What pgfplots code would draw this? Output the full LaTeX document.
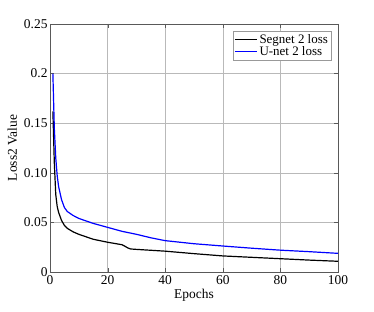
\documentclass[border=0pt]{standalone}
\usepackage{pgfplots}
\pgfplotsset{compat=1.18}
\usepackage{fontspec}
\setmainfont{Liberation Serif}
\pgfplotsset{legend image code/.code={\draw[#1] (0bp,0bp) -- (22bp,0bp);}}
\begin{document}
\begin{tikzpicture}
\begin{axis}[
  scale only axis, width=288bp, height=248bp,
  xmin=0, xmax=100, ymin=0, ymax=0.25,
  xtick={0,20,40,60,80,100},
  ytick={0,0.05,0.1,0.15,0.2,0.25},
  yticklabels={0,0.05,0.10,0.15,0.2,0.25},
  grid=major, grid style={gray!55, line width=0.5pt},
  axis line style={black!65, line width=0.6pt},
  tick style={black!65},
  tick align=inside,
  tick label style={font=\fontsize{13.5}{15}\selectfont},
  yticklabel style={xshift=1bp},
  label style={font=\fontsize{13.5}{15}\selectfont},
  /pgf/number format/assume math mode=true,
  xlabel={Epochs}, ylabel={Loss2 Value},
  xlabel style={yshift=2bp},
  legend cell align=left,
  legend style={at={(0.976,0.972)}, anchor=north east, draw=black!40,
    font=\fontsize{13}{14}\selectfont, inner sep=1pt, row sep=-2pt},
]
\addplot[color=black, line width=1.2bp] coordinates {
(1,0.162) (1.5,0.11) (2,0.078) (2.5,0.066) (3,0.06) (4,0.052) (5,0.047) (6,0.044) (8,0.0405) (10,0.038)
(15,0.033) (20,0.030) (24,0.028) (25,0.0275) (26,0.026) (27,0.0243) (28,0.0232) (30,0.0228)
(40,0.021) (50,0.0185) (60,0.0162) (70,0.0148) (80,0.0134) (90,0.012) (100,0.0108)};
\addlegendentry{Segnet 2 loss}
\addplot[color=blue, line width=1.2bp] coordinates {
(1,0.2) (1.5,0.145) (2,0.115) (2.5,0.097) (3,0.086) (4,0.073) (5,0.065) (6,0.061) (8,0.057) (10,0.054)
(15,0.049) (20,0.045) (25,0.041) (30,0.038) (35,0.0345) (40,0.0316) (50,0.0285) (60,0.0262)
(70,0.024) (80,0.022) (90,0.0205) (100,0.0188)};
\addlegendentry{U-net 2 loss}
\end{axis}
\path ([xshift=-50bp,yshift=-40bp]current axis.south west) rectangle ([xshift=36bp,yshift=24bp]current axis.north east);
\end{tikzpicture}
\end{document}
